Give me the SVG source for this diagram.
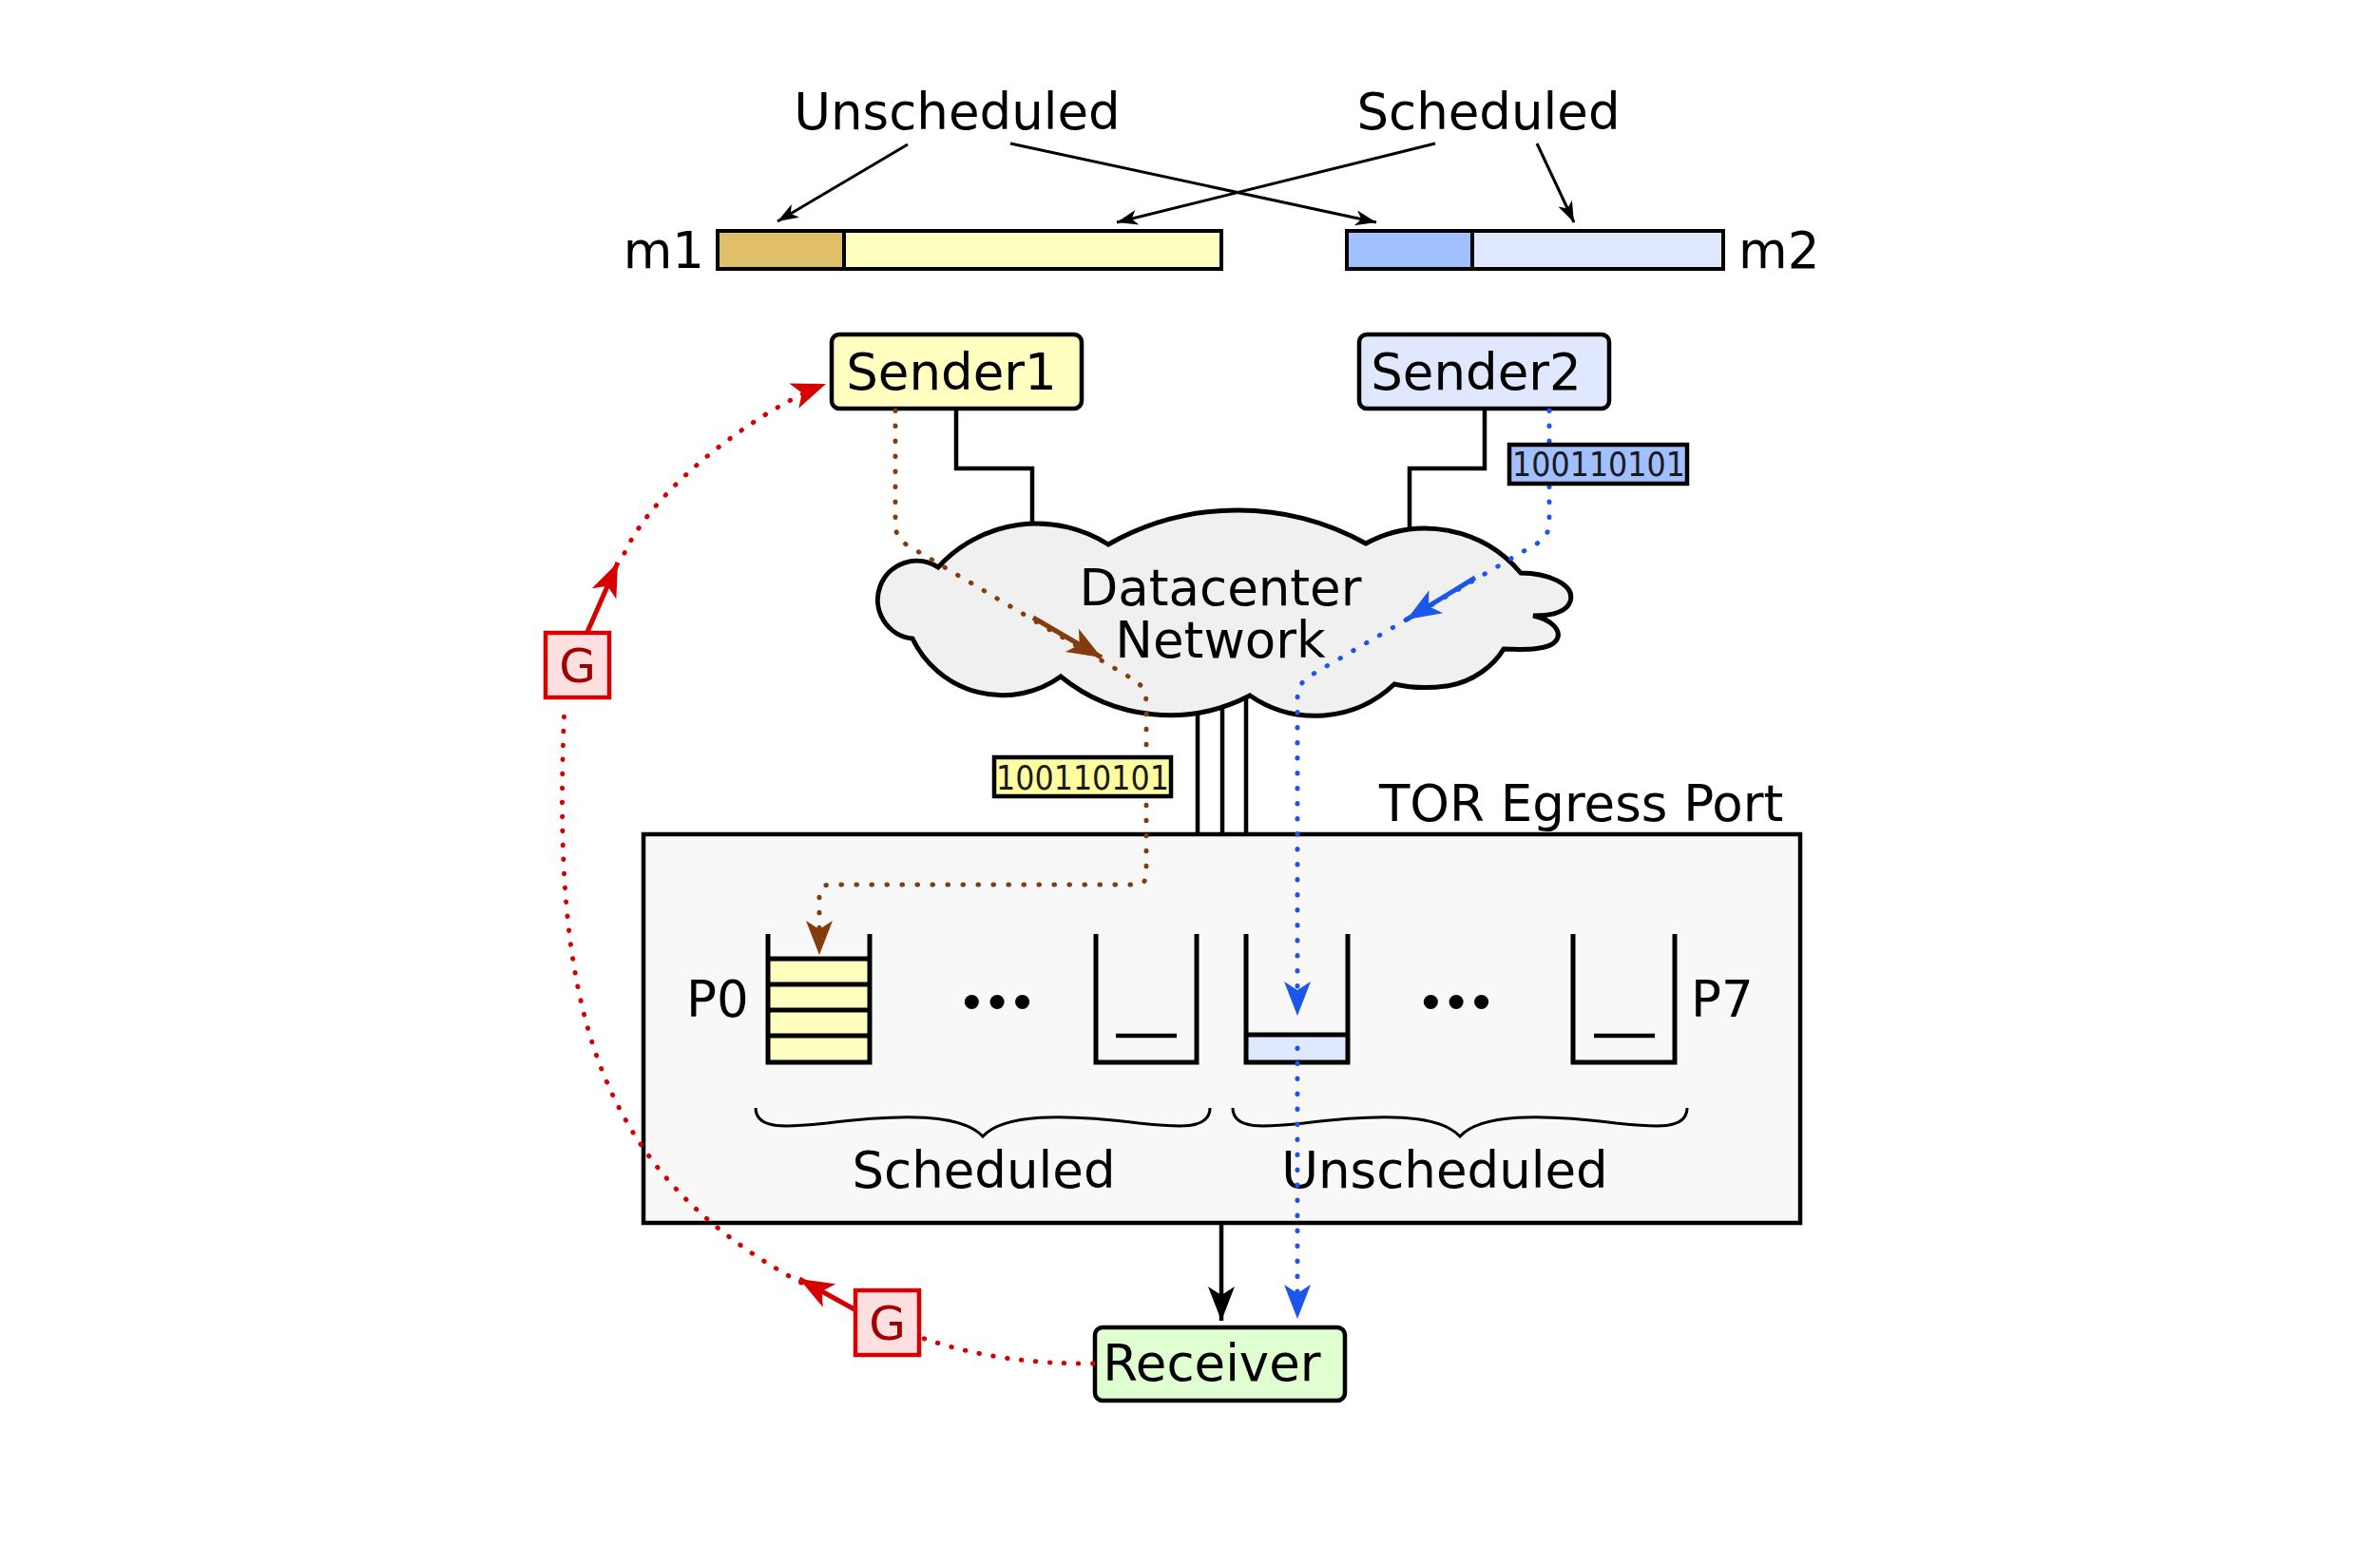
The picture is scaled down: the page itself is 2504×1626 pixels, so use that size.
<svg xmlns="http://www.w3.org/2000/svg" width="2504" height="1626" viewBox="0 0 2504 1626">
<style>
.t{font-family:"DejaVu Sans","Liberation Sans",sans-serif;font-size:53px;fill:#000}
.bin{font-family:"DejaVu Sans","Liberation Sans",sans-serif;font-size:35px;fill:#1a1a1a}
.box{stroke:#000;stroke-width:4.5}
.bar{stroke:#000;stroke-width:4}
.ln{fill:none;stroke:#000;stroke-width:4.5}
.thin{fill:none;stroke:#000;stroke-width:3}
.dotB{fill:none;stroke:#843c0c;stroke-width:5;stroke-linecap:round;stroke-dasharray:0.5 15.5}
.dotU{fill:none;stroke:#1a56e8;stroke-width:5;stroke-linecap:round;stroke-dasharray:0.5 15.5}
.dotR{fill:none;stroke:#d70000;stroke-width:5;stroke-linecap:round;stroke-dasharray:0.5 14.5}
.q{fill:none;stroke:#000;stroke-width:5}
.gbox{fill:#ffe0e0;stroke:#d70000;stroke-width:4.5}
.g{font-family:"DejaVu Sans","Liberation Sans",sans-serif;font-size:50px;fill:#a00000}
.dots{font-family:"DejaVu Sans","Liberation Sans",sans-serif;font-size:52px;letter-spacing:-4px;fill:#000}
</style>
<defs>
<marker id="ahS" markerUnits="userSpaceOnUse" viewBox="-26 -10 28 20" refX="0" refY="0" markerWidth="28" markerHeight="20" orient="auto"><path d="M0,0 L-22,-8 L-16,0 L-22,8 Z" fill="#000"/></marker>
<marker id="ahK" markerUnits="userSpaceOnUse" viewBox="-38 -16 40 32" refX="0" refY="0" markerWidth="40" markerHeight="32" orient="auto"><path d="M0,0 L-36,-14 L-27,0 L-36,14 Z" fill="#000"/></marker>
<marker id="ahBr" markerUnits="userSpaceOnUse" viewBox="-38 -16 40 32" refX="0" refY="0" markerWidth="40" markerHeight="32" orient="auto"><path d="M0,0 L-36,-14 L-27,0 L-36,14 Z" fill="#843c0c"/></marker>
<marker id="ahBl" markerUnits="userSpaceOnUse" viewBox="-38 -16 40 32" refX="0" refY="0" markerWidth="40" markerHeight="32" orient="auto"><path d="M0,0 L-36,-14 L-27,0 L-36,14 Z" fill="#1a56e8"/></marker>
<marker id="ahR" markerUnits="userSpaceOnUse" viewBox="-38 -16 40 32" refX="0" refY="0" markerWidth="40" markerHeight="32" orient="auto"><path d="M0,0 L-36,-14 L-27,0 L-36,14 Z" fill="#d70000"/></marker>
</defs>
<rect width="2504" height="1626" fill="#fff"/>

<g id="label-unscheduled-top"><text class="t" x="1007" y="136" text-anchor="middle">Unscheduled</text></g>
<g id="label-scheduled-top"><text class="t" x="1566" y="136" text-anchor="middle">Scheduled</text></g>

<g id="m1">
<rect x="755" y="243" width="133" height="40" fill="#e0bf68" class="bar"/>
<rect x="888" y="243" width="397" height="40" fill="#ffffc0" class="bar"/>
<text class="t" x="741" y="282" text-anchor="end">m1</text>
</g>
<g id="m2">
<rect x="1417" y="243" width="132" height="40" fill="#a0c0ff" class="bar"/>
<rect x="1549" y="243" width="264" height="40" fill="#e0e8ff" class="bar"/>
<text class="t" x="1829" y="282">m2</text>
</g>

<g id="connectors-under">
<path class="ln" d="M1006,430 V493 H1086 V590"/>
<path class="ln" d="M1562,430 V493 H1483 V590"/>
<path class="ln" d="M1260,720 V877"/>
<path class="ln" d="M1286,720 V877"/>
<path class="ln" d="M1311,720 V877"/>
</g>

<g id="sender1">
<rect x="875" y="352" width="263" height="78" rx="8" fill="#ffffc0" class="box"/>
<text class="t" x="1001" y="410" text-anchor="middle">Sender1</text>
</g>
<g id="sender2">
<rect x="1430" y="352" width="263" height="78" rx="8" fill="#e0e8ff" class="box"/>
<text class="t" x="1553" y="410" text-anchor="middle">Sender2</text>
</g>

<g id="cloud">
<path d="M987,597 A140,140 0 0 1 1166,573 A276,276 0 0 1 1437,572 A131,131 0 0 1 1600,603 C1626,603 1658,614 1652,633 C1648,645 1630,648 1613,648 C1633,652 1643,664 1638,673 C1632,684 1606,684 1582,683 C1572,700 1550,718 1522,722 C1500,725 1480,723 1467,720 A121,121 0 0 1 1315,732 A182,182 0 0 1 1116,712 A105,105 0 0 1 960,672 A41,41 0 1 1 987,597 Z" fill="#f0f0f0" stroke="#000" stroke-width="5" stroke-linejoin="miter"/>
<text class="t" x="1284" y="637" text-anchor="middle">Datacenter</text>
<text class="t" x="1284" y="692" text-anchor="middle">Network</text>
</g>

<g id="tor">
<rect x="677" y="878" width="1217" height="409" fill="#f8f8f8" class="box"/>
<text class="t" x="1451" y="864">TOR Egress Port</text>
</g>

<g id="queues">
<text class="t" x="722" y="1070">P0</text>
<rect x="808" y="1009" width="107" height="109" fill="#ffffc0"/>
<path class="q" d="M808,1036 H915 M808,1063 H915 M808,1090 H915 M808,1009 H915"/>
<path class="q" d="M808,983 V1118 H915 V983"/>
<text class="dots" x="1047" y="1074" text-anchor="middle">•••</text>
<path class="q" d="M1153,983 V1118 H1259 V983"/>
<path class="ln" d="M1174,1090 H1238"/>
<rect x="1311" y="1089" width="107" height="29" fill="#e0e8ff"/>
<path class="q" d="M1311,1089 H1418"/>
<path class="q" d="M1311,983 V1118 H1418 V983"/>
<text class="dots" x="1530" y="1074" text-anchor="middle">•••</text>
<path class="q" d="M1655,983 V1118 H1762 V983"/>
<path class="ln" d="M1677,1090 H1741"/>
<text class="t" x="1779" y="1070">P7</text>
<path class="thin" d="M795,1166 C795,1190 830,1186 870,1182 C950,1172 1012,1172 1034,1196 C1056,1172 1118,1172 1198,1182 C1238,1186 1273,1190 1273,1166"/>
<path class="thin" d="M1297,1166 C1297,1190 1332,1186 1372,1182 C1452,1172 1514,1172 1536,1196 C1558,1172 1620,1172 1700,1182 C1740,1186 1775,1190 1775,1166"/>
<text class="t" x="1035" y="1250" text-anchor="middle">Scheduled</text>
<text class="t" x="1520" y="1250" text-anchor="middle">Unscheduled</text>
</g>

<g id="receiver">
<rect x="1152" y="1397" width="263" height="77" rx="8" fill="#e0ffd0" class="box"/>
<text class="t" x="1275" y="1453" text-anchor="middle">Receiver</text>
</g>

<g id="connectors">
<path class="thin" d="M955,152 L818,233" marker-end="url(#ahS)"/>
<path class="thin" d="M1063,151 L1448,234" marker-end="url(#ahS)"/>
<path class="thin" d="M1510,151 L1175,234" marker-end="url(#ahS)"/>
<path class="thin" d="M1617,151 L1656,234" marker-end="url(#ahS)"/>
<path class="dotB" d="M942,432 V552 Q942,566 955,574 L1194,716 Q1206,724 1206,740 V920 Q1206,931 1195,931 H874 Q862,931 862,943 V1005" marker-end="url(#ahBr)"/>
<path d="M1087,650 L1159,692" stroke="#843c0c" stroke-width="5" fill="none" marker-end="url(#ahBr)"/>
<path class="dotU" d="M1630,432 V550 Q1630,564 1617,572 L1377,712 Q1365,720 1365,736 V1069" marker-end="url(#ahBl)"/>
<path d="M1552,608 L1480,652" stroke="#1a56e8" stroke-width="5" fill="none" marker-end="url(#ahBl)"/>
<path class="dotU" d="M1365,1103 V1388" marker-end="url(#ahBl)"/>
<path class="ln" d="M1285,1288 V1390" marker-end="url(#ahK)"/>
<path class="dotR" d="M1150,1435 Q1050,1436 970,1408"/>
<path d="M899,1378 L841,1346" stroke="#d70000" stroke-width="5" fill="none" marker-end="url(#ahR)"/>
<path class="dotR" d="M843,1350 C620,1230 580,1050 594,742"/>
<path d="M618,665 L650,592" stroke="#d70000" stroke-width="5" fill="none" marker-end="url(#ahR)"/>
<path class="dotR" d="M657,582 C690,510 800,430 869,404" marker-end="url(#ahR)"/>
</g>

<g id="bin-blue">
<rect x="1588" y="468" width="187" height="41" fill="#a0c0ff" class="box"/>
<text class="bin" x="1591" y="501" textLength="182" lengthAdjust="spacingAndGlyphs">100110101</text>
</g>
<g id="bin-yellow">
<rect x="1046" y="797" width="186" height="41" fill="#ffffa0" class="box"/>
<text class="bin" x="1048" y="831" textLength="182" lengthAdjust="spacingAndGlyphs">100110101</text>
</g>

<g id="g1">
<rect x="574" y="666" width="67" height="68" class="gbox"/>
<text class="g" x="607.5" y="718" text-anchor="middle">G</text>
</g>
<g id="g2">
<rect x="900" y="1358" width="67" height="68" class="gbox"/>
<text class="g" x="933.5" y="1410" text-anchor="middle">G</text>
</g>
</svg>
